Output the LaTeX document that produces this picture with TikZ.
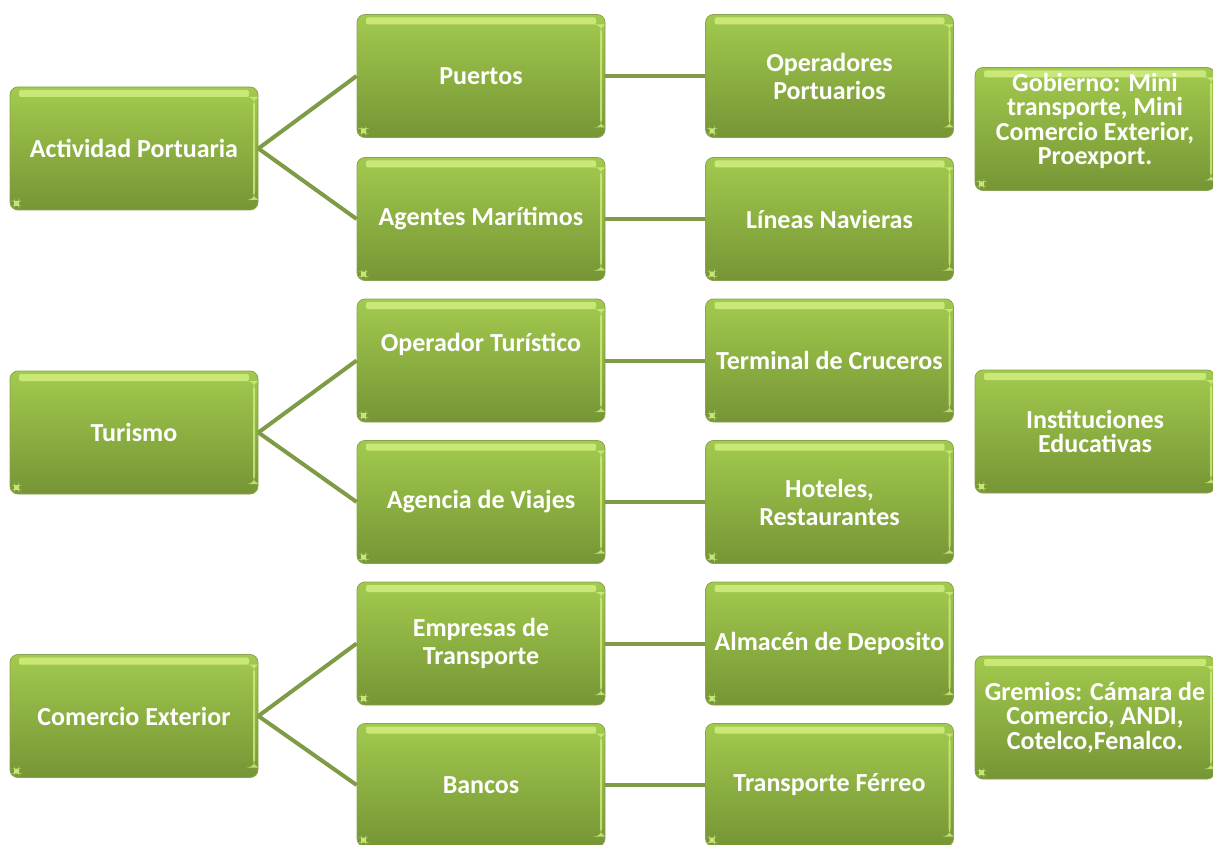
\documentclass[tikz,border=0pt]{standalone}
\usepackage{fontspec}
\setmainfont{Carlito}
\usetikzlibrary{shadings}
\definecolor{gtop}{HTML}{A2CA4E}
\definecolor{gbot}{HTML}{769535}
\definecolor{gedge}{HTML}{8AA352}
\definecolor{ghl}{HTML}{D2EE80}
\definecolor{glink}{HTML}{7F9B46}
\tikzset{
  gbox/.style={rectangle, rounded corners=8pt, minimum width=248pt, minimum height=123pt,
    inner sep=2pt, top color=gtop, bottom color=gbot, draw=gedge, line width=0.8pt,
    text=white, font=\bfseries\fontsize{26}{28}\selectfont, align=center,
    path picture={
      \fill[ghl, opacity=0.85, rounded corners=2pt]
        ([xshift=9pt,yshift=-3pt]path picture bounding box.north west)
        rectangle ([xshift=-9pt,yshift=-10pt]path picture bounding box.north east);
      \fill[ghl, opacity=0.8]
        ([xshift=-5pt,yshift=-10pt]path picture bounding box.north east)
        rectangle ([xshift=-3pt,yshift=10pt]path picture bounding box.south east);
      \fill[ghl, opacity=0.9]
        ([xshift=4pt,yshift=4pt]path picture bounding box.south west)
        rectangle ([xshift=9pt,yshift=9pt]path picture bounding box.south west);
    }},
  sidebox/.style={gbox, minimum width=240pt, font=\bfseries\fontsize{26}{24.5}\selectfont},
  link/.style={draw=glink, line width=4pt}
}
\begin{document}
\begin{tikzpicture}[x=1pt, y=-1pt]
\useasboundingbox (0,0) rectangle (1213,845);

% first column: sectors
\node[gbox] (act) at (134,148.5) {Actividad Portuaria};
\node[gbox] (tur) at (134,432.5) {Turismo};
\node[gbox] (com) at (134,716) {Comercio Exterior};

% second column
\node[gbox] (pue) at (481,76)    {Puertos};
\node[gbox] (age) at (481,219)   {Agentes Marítimos};
\node[gbox, text depth=37pt] (ope) at (481,360.5) {Operador Turístico};
\node[gbox] (agv) at (481,502)   {Agencia de Viajes};
\node[gbox] (emp) at (481,643.5) {Empresas de\\Transporte};
\node[gbox] (ban) at (481,785)   {Bancos};

% third column
\node[gbox] (opp) at (829.5,76)    {Operadores\\Portuarios};
\node[gbox] (lin) at (829.5,219)   {Líneas Navieras};
\node[gbox] (ter) at (829.5,360.5) {Terminal de Cruceros};
\node[gbox] (hot) at (829.5,502)   {Hoteles,\\Restaurantes};
\node[gbox] (alm) at (829.5,643.5) {Almacén de Deposito};
\node[gbox] (tra) at (829.5,785)   {Transporte Férreo};

% institutions on the right
\node[sidebox, text depth=20pt] (gob) at (1095,129) {Gobierno: Mini\\transporte, Mini\\Comercio Exterior,\\Proexport.};
\node[sidebox] (ins) at (1095,431.5) {Instituciones\\Educativas};
\node[sidebox] (gre) at (1095,717.5) {Gremios: Cámara  de\\Comercio, ANDI,\\Cotelco,Fenalco.};

% connectors
\begin{scope}[on background layer/.try]
\draw[link] (act.east) -- (pue.west);
\draw[link] (act.east) -- (age.west);
\draw[link] (tur.east) -- (ope.west);
\draw[link] (tur.east) -- (agv.west);
\draw[link] (com.east) -- (emp.west);
\draw[link] (com.east) -- (ban.west);
\draw[link] (pue.east) -- (opp.west);
\draw[link] (age.east) -- (lin.west);
\draw[link] (ope.east) -- (ter.west);
\draw[link] (agv.east) -- (hot.west);
\draw[link] (emp.east) -- (alm.west);
\draw[link] (ban.east) -- (tra.west);
\end{scope}
\end{tikzpicture}
\end{document}
